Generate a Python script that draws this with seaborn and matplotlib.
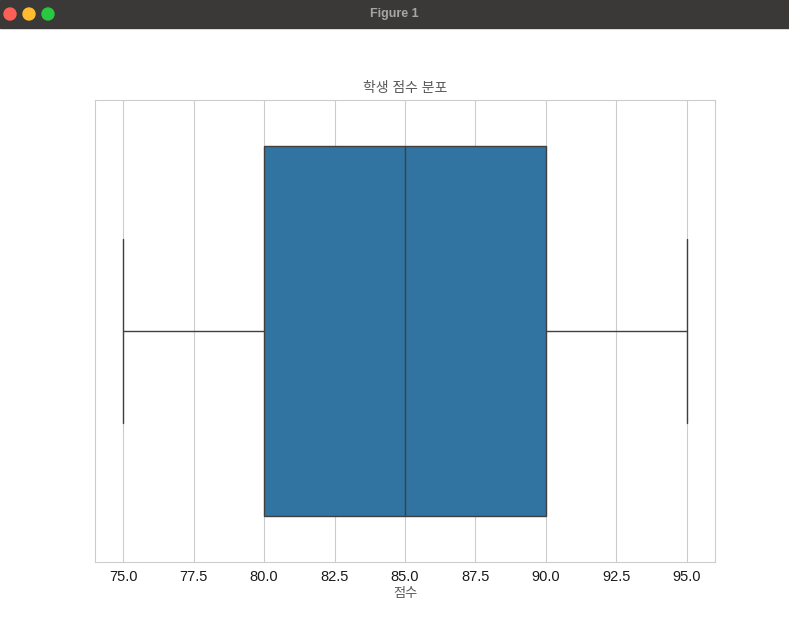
# -*- coding: utf-8 -*-
"""점수 분포 박스플롯"""
import matplotlib
matplotlib.use('Agg')
import matplotlib.pyplot as plt
from matplotlib.patches import Rectangle, Circle
import seaborn as sns
import pandas as pd

sns.set_style("whitegrid")
plt.rcParams['font.family'] = ['Liberation Sans', 'Noto Sans CJK KR', 'DejaVu Sans']

# ── 데이터 ──────────────────────────────
scores = [75, 80, 85, 90, 95]
title = '학생 점수 분포'
xlabel = '점수'

df = pd.DataFrame({'점수': scores})

# ── 그림 ────────────────────────────────
W, H = 789, 626
fig = plt.figure(figsize=(W / 100, H / 100), dpi=100)
ax = fig.add_axes([95 / W, (H - 562) / H, 620 / W, 462 / H])

sns.boxplot(data=df, x='점수', ax=ax, color='#1f77b4')

ax.set_title(title, fontsize=10, color='.35', pad=6)
ax.set_xlabel(xlabel, fontsize=9.5, color='.35', labelpad=3)
ax.tick_params(axis='x', labelsize=10.5, pad=2, labelcolor='.1')
for s in ax.spines.values():
    s.set_color('#cccccc')

# 창 제목 표시줄 (macOS)
bar_h = 28 / H
fig.patches.append(Rectangle((0, 1 - bar_h), 1, bar_h, transform=fig.transFigure,
                             color='#3b3937', zorder=0))
for i, c in enumerate(['#fe5f57', '#febc2e', '#28c840']):
    fig.patches.append(Circle(((10 + 19 * i) / 100, (H - 14) / 100), 0.06,
                              transform=fig.dpi_scale_trans, color=c))
fig.text(0.5, 1 - 14 / H, 'Figure 1', ha='center', va='center',
         fontsize=9, fontweight='bold', color='#a8a6a4')

plt.savefig('out.png', dpi=100)
plt.close()
